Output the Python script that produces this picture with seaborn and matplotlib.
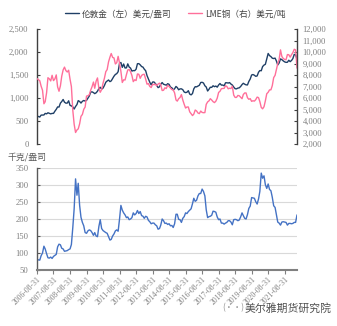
import matplotlib
matplotlib.use("Agg")
import matplotlib.pyplot as plt
import matplotlib.dates as mdates
import matplotlib.ticker as mticker
import numpy as np
import pandas as pd
import seaborn as sns

# ---------------- data (monthly, 2006-08 .. 2022-05) ----------------
start_date = "2006-08-31"
end_date = "2022-05-31"

gold = [
    605, 598, 586, 628, 629,
    631, 665, 655, 679, 667, 655, 665, 665, 712, 754, 806, 803,
    889, 922, 968, 909, 888, 889, 939, 839, 829, 806, 760, 816,
    858, 943, 924, 890, 928, 946, 934, 949, 996, 1043, 1127, 1134,
    1118, 1095, 1113, 1148, 1205, 1233, 1193, 1215, 1271, 1343, 1370, 1391,
    1356, 1372, 1424, 1474, 1512, 1529, 1572, 1756, 1772, 1666, 1739, 1652,
    1656, 1742, 1673, 1650, 1585, 1596, 1594, 1626, 1745, 1747, 1721, 1684,
    1671, 1627, 1593, 1487, 1414, 1343, 1286, 1347, 1349, 1316, 1275, 1225,
    1244, 1300, 1336, 1299, 1288, 1279, 1311, 1296, 1238, 1222, 1176, 1201,
    1251, 1227, 1179, 1198, 1199, 1181, 1131, 1117, 1125, 1159, 1086, 1068,
    1097, 1200, 1246, 1242, 1260, 1276, 1337, 1341, 1326, 1266, 1238, 1152,
    1192, 1234, 1231, 1266, 1246, 1260, 1236, 1283, 1315, 1280, 1282, 1265,
    1331, 1331, 1325, 1335, 1303, 1282, 1238, 1202, 1199, 1215, 1221, 1250,
    1292, 1320, 1300, 1286, 1284, 1359, 1413, 1500, 1510, 1495, 1471, 1480,
    1560, 1597, 1592, 1683, 1716, 1732, 1847, 1968, 1922, 1900, 1866, 1858,
    1867, 1808, 1718, 1760, 1850, 1834, 1807, 1785, 1775, 1777, 1821, 1790,
    1817, 1856, 1948, 1937, 1849,
]

copper = [
    7691, 7602, 7499, 7029, 6675,
    5500, 5676, 6452, 7766, 7662, 7485, 7973, 7510, 7653, 8008, 6963, 6587,
    7061, 7888, 8439, 8685, 8383, 8260, 8414, 7634, 6991, 4926, 3717, 3000,
    3221, 3315, 3750, 4407, 4569, 5014, 5216, 6165, 6196, 6288, 6676, 6982,
    7386, 6848, 7463, 7745, 6838, 6499, 6735, 7284, 7709, 8292, 8470, 9147,
    9556, 9868, 9530, 9483, 8959, 9067, 9620, 9040, 8315, 7350, 7581, 7566,
    8040, 8441, 8471, 8289, 7955, 7423, 7584, 7516, 8088, 8062, 7711, 7963,
    8047, 8061, 7645, 7204, 7253, 7005, 6907, 7192, 7159, 7203, 7070, 7215,
    7291, 7149, 6650, 6674, 6891, 6821, 7113, 7002, 6872, 6737, 6713, 6446,
    5831, 5729, 5940, 6042, 6295, 5833, 5457, 5127, 5217, 5216, 4800, 4639,
    4472, 4599, 4954, 4873, 4695, 4642, 4864, 4745, 4722, 4731, 5450, 5660,
    5755, 5941, 5825, 5684, 5600, 5720, 5985, 6484, 6583, 6808, 6827, 6834,
    7065, 7006, 6799, 6851, 6825, 7018, 6250, 6051, 6051, 6222, 6195, 6073,
    5939, 6301, 6439, 6438, 6029, 5887, 5941, 5710, 5759, 5729, 5859, 6077,
    6031, 5688, 5183, 5058, 5240, 5755, 6372, 6498, 6705, 6712, 7070, 7772,
    7970, 8460, 8988, 9336, 10184, 9612, 9433, 9357, 9324, 9778, 9765, 9550,
    9777, 9941, 10238, 10183, 8600,
]

ratio = [
    78, 80, 79, 92, 100,
    120, 112, 98, 86, 85, 88, 84, 90, 93, 96, 118, 126,
    124, 114, 112, 105, 106, 107, 110, 112, 125, 175, 230, 318,
    270, 305, 240, 205, 190, 180, 160, 158, 165, 168, 166, 160,
    152, 160, 150, 148, 178, 198, 172, 166, 163, 160, 158, 148,
    138, 140, 150, 156, 165, 168, 164, 200, 240, 226, 218, 212,
    204, 206, 198, 200, 204, 218, 212, 216, 225, 216, 222, 210,
    208, 202, 208, 206, 196, 192, 186, 188, 188, 183, 180, 170,
    172, 182, 200, 195, 187, 188, 184, 186, 180, 181, 175, 186,
    214, 214, 199, 198, 190, 202, 207, 218, 216, 222, 226, 230,
    245, 261, 252, 255, 268, 275, 275, 288, 281, 268, 227, 204,
    207, 208, 211, 223, 222, 220, 206, 198, 200, 188, 188, 185,
    188, 190, 195, 195, 191, 183, 198, 199, 198, 195, 197, 206,
    218, 210, 202, 200, 213, 231, 238, 263, 262, 261, 251, 244,
    259, 281, 335, 320, 327, 301, 290, 303, 287, 283, 264, 239,
    234, 214, 191, 188, 182, 191, 192, 191, 190, 182, 187, 187,
    186, 187, 190, 190, 212,
]

gold_label = "伦敦金（左）美元/盎司"
copper_label = "LME铜（右）美元/吨"
ratio_unit = "千克/盎司"
watermark = "美尔雅期货研究院"

dates = pd.date_range(start_date, end_date, freq=pd.offsets.MonthEnd())
df = pd.DataFrame({"date": dates, "gold": gold, "copper": copper, "ratio": ratio})

# ---------------- style ----------------
sns.set_style("white")
plt.rcParams["font.family"] = ["Noto Sans CJK SC", "DejaVu Sans"]
plt.rcParams["axes.unicode_minus"] = False

GOLD_C = "#1f3f66"
COPPER_C = "#ff6f9a"
RATIO_C = "#4472c4"
TICK_C = "#808080"
SPINE_C = "#404040"
num_font = {"family": ["Liberation Serif", "DejaVu Serif"], "size": 6.2}

fig = plt.figure(figsize=(3.37, 3.26), dpi=100)

# ---------------- top panel ----------------
ax1 = fig.add_axes([37 / 337, 1 - 144 / 326, 260 / 337, 115 / 326])
sns.lineplot(data=df, x="date", y="gold", ax=ax1, color=GOLD_C, linewidth=1.0,
             label=gold_label, legend=False)
ax2 = ax1.twinx()
sns.lineplot(data=df, x="date", y="copper", ax=ax2, color=COPPER_C, linewidth=1.0,
             label=copper_label, legend=False)

ax1.set_ylim(0, 2500)
ax1.yaxis.set_major_locator(mticker.MultipleLocator(500))
ax2.set_ylim(2000, 12000)
ax2.yaxis.set_major_locator(mticker.MultipleLocator(1000))
fmt = mticker.FuncFormatter(lambda v, p: f"{v:,.0f}")
ax1.yaxis.set_major_formatter(fmt)
ax2.yaxis.set_major_formatter(fmt)

xmin, xmax = pd.Timestamp(start_date), pd.Timestamp(end_date)
for a in (ax1, ax2):
    a.set_xlim(xmin, xmax)
    a.set_xlabel("")
    a.set_ylabel("")
    a.set_xticks([])
    for s in ("top", "bottom"):
        a.spines[s].set_visible(False)
ax1.spines["right"].set_visible(False)
ax2.spines["left"].set_visible(False)
ax1.spines["left"].set_color(SPINE_C)
ax2.spines["right"].set_color(SPINE_C)
ax1.spines["left"].set_linewidth(1.0)
ax2.spines["right"].set_linewidth(1.0)
ax1.tick_params(axis="y", direction="in", length=2.5, width=0.8, color=SPINE_C,
                labelcolor=TICK_C, pad=6, left=True)
ax2.tick_params(axis="y", direction="in", length=2.5, width=0.8, color=SPINE_C,
                labelcolor=TICK_C, pad=4, right=True)
for lab in ax1.get_yticklabels() + ax2.get_yticklabels():
    lab.set_fontfamily(num_font["family"])
    lab.set_fontsize(num_font["size"])

h1, l1 = ax1.get_legend_handles_labels()
h2, l2 = ax2.get_legend_handles_labels()
fig.legend(h1 + h2, l1 + l2, loc="center", bbox_to_anchor=(0.52, 1 - 14 / 326),
           ncol=2, frameon=False, fontsize=6.2, handlelength=1.6, handletextpad=0.3,
           columnspacing=2.0, labelcolor="#404040")

# ---------------- bottom panel ----------------
ax3 = fig.add_axes([37 / 337, 1 - 270 / 326, 260 / 337, 102 / 326])
sns.lineplot(data=df, x="date", y="ratio", ax=ax3, color=RATIO_C, linewidth=1.0)
ax3.set_ylim(50, 350)
ax3.yaxis.set_major_locator(mticker.MultipleLocator(50))
ax3.set_xlim(xmin, xmax)
ax3.grid(axis="y", color="#d9d9d9", linewidth=0.8)
ax3.set_axisbelow(True)
ax3.set_xlabel("")
ax3.set_ylabel("")
for s in ("top", "right"):
    ax3.spines[s].set_visible(False)
ax3.spines["left"].set_color("#595959")
ax3.spines["left"].set_linewidth(1.0)
ax3.spines["bottom"].set_color("#808080")
ax3.spines["bottom"].set_linewidth(1.5)

tick_dates = pd.date_range(start_date, "2021-08-31", freq=pd.DateOffset(years=1))
ax3.set_xticks(tick_dates)
ax3.xaxis.set_major_formatter(mdates.DateFormatter("%Y-%m-%d"))
ax3.tick_params(axis="x", direction="out", length=3, width=0.8, color="#808080",
                labelcolor=TICK_C, bottom=True, pad=1)
ax3.tick_params(axis="y", direction="in", length=2.5, width=0.8, color="#595959",
                labelcolor=TICK_C, left=True, pad=6)
for lab in ax3.get_xticklabels():
    lab.set_rotation(45)
    lab.set_ha("right")
    lab.set_rotation_mode("anchor")
    lab.set_fontfamily(num_font["family"])
    lab.set_fontsize(5.6)
for lab in ax3.get_yticklabels():
    lab.set_fontfamily(num_font["family"])
    lab.set_fontsize(num_font["size"])

fig.text(27 / 337, 1 - 157 / 326, ratio_unit, ha="center", va="center",
         fontsize=6.4, color="#595959")
fig.text(288 / 337, 1 - 308 / 326, watermark, ha="center", va="center",
         fontsize=7.8, color="#505050")
fig.text(233 / 337, 1 - 308 / 326, "(··)", ha="center", va="center",
         fontsize=6, color="#909090")

fig.savefig("out.png", dpi=100)
